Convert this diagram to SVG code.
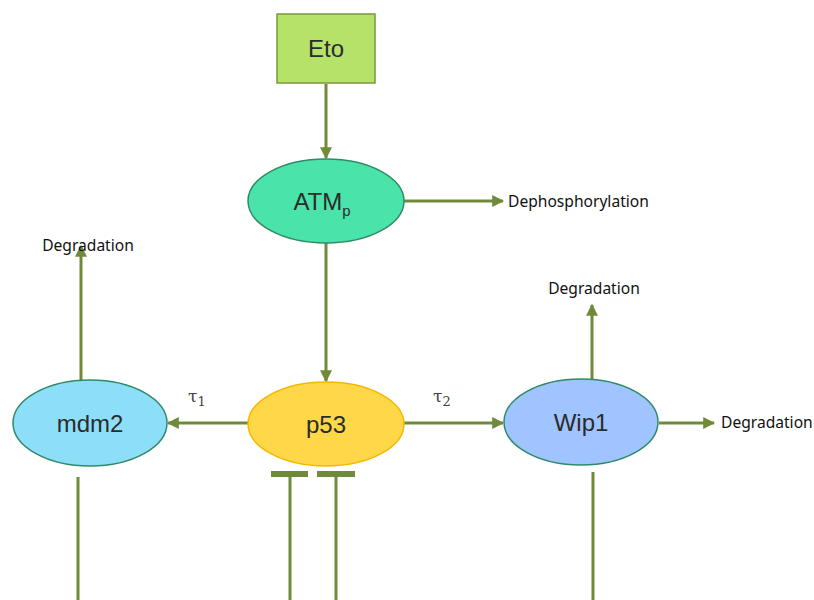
<svg xmlns="http://www.w3.org/2000/svg" width="814" height="600" viewBox="0 0 814 600">
<style>
.lbl{font-family:"Liberation Sans",Arial,sans-serif;font-size:24px;fill:#2b2b2b;text-anchor:middle}
.t{font-family:"Noto Sans","Open Sans",sans-serif;font-size:15.6px;fill:#111}
.c{stroke:#6f8b3a;stroke-width:3;fill:none}
.tau{font-family:"DejaVu Serif",serif;font-size:17px;fill:#444}
</style>
<defs>
<marker id="ah" viewBox="0 0 10 10" refX="9" refY="5" markerWidth="4" markerHeight="4" orient="auto" markerUnits="strokeWidth">
<path d="M0,0 L10,5 L0,10 z" fill="#6f8b3a"/>
</marker>
</defs>
<g id="connectors">
<line class="c" x1="326" y1="84" x2="326" y2="158" marker-end="url(#ah)"/>
<line class="c" x1="326" y1="243" x2="326" y2="381" marker-end="url(#ah)"/>
<line class="c" x1="404" y1="201" x2="503" y2="201" marker-end="url(#ah)"/>
<line class="c" x1="81" y1="380" x2="81" y2="246" marker-end="url(#ah)"/>
<line class="c" x1="248" y1="423" x2="168" y2="423" marker-end="url(#ah)"/>
<line class="c" x1="404" y1="423" x2="503" y2="423" marker-end="url(#ah)"/>
<line class="c" x1="592" y1="380" x2="592" y2="305" marker-end="url(#ah)"/>
<line class="c" x1="659" y1="423" x2="714" y2="423" marker-end="url(#ah)"/>
<line class="c" x1="78" y1="477" x2="78" y2="600"/>
<line class="c" x1="290" y1="474" x2="290" y2="600"/>
<line class="c" x1="336" y1="474" x2="336" y2="600"/>
<line class="c" x1="593" y1="472" x2="593" y2="600"/>
<rect x="271" y="471" width="37" height="6" fill="#6f8b3a"/>
<rect x="317" y="471" width="38" height="6" fill="#6f8b3a"/>
</g>
<g id="Eto">
<rect x="277" y="14" width="98" height="69" fill="#b7e26a" stroke="#7a9a3a" stroke-width="1.5"/>
<text class="lbl" x="326" y="57">Eto</text>
</g>
<g id="ATMp">
<ellipse cx="326" cy="201" rx="78" ry="42" fill="#4ae3a9" stroke="#2e8b66" stroke-width="1.5"/>
<text class="lbl" x="322" y="210">ATM<tspan font-size="15" dy="6">p</tspan></text>
</g>
<g id="p53">
<ellipse cx="326" cy="424" rx="78" ry="42" fill="#ffd84a" stroke="#f5b800" stroke-width="1.5"/>
<text class="lbl" x="326" y="433">p53</text>
</g>
<g id="mdm2">
<ellipse cx="90" cy="423" rx="77" ry="43" fill="#8ddff9" stroke="#2e8b66" stroke-width="1.5"/>
<text class="lbl" x="90" y="432">mdm2</text>
</g>
<g id="Wip1">
<ellipse cx="581" cy="422" rx="77" ry="43" fill="#a0c4ff" stroke="#2e8b66" stroke-width="1.5"/>
<text class="lbl" x="581" y="431">Wip1</text>
</g>
<g id="labels">
<text class="t" x="508" y="207">Dephosphorylation</text>
<text class="t" x="88" y="251" text-anchor="middle">Degradation</text>
<text class="t" x="594" y="294" text-anchor="middle">Degradation</text>
<text class="t" x="721" y="428">Degradation</text>
<text class="tau" x="188" y="402">τ<tspan font-size="13" dy="4">1</tspan></text>
<text class="tau" x="433" y="402">τ<tspan font-size="13" dy="4">2</tspan></text>
</g>
</svg>
